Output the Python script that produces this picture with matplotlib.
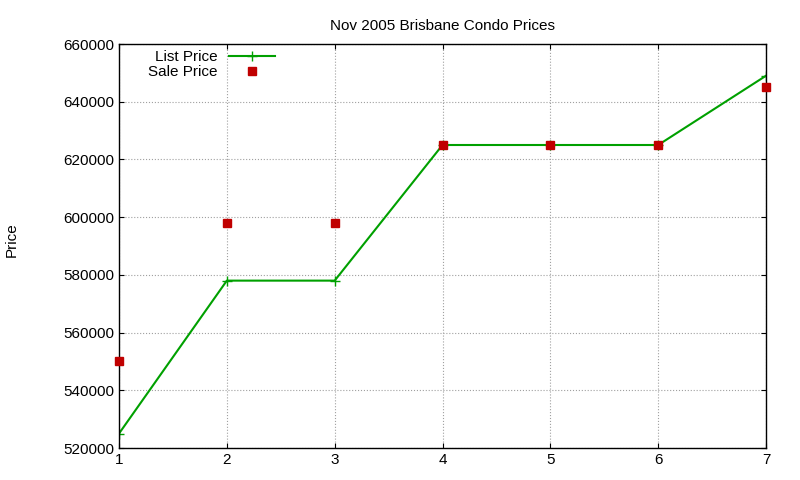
import matplotlib
matplotlib.use("Agg")
import matplotlib.pyplot as plt

x = [1, 2, 3, 4, 5, 6, 7]
list_price = [525000, 578000, 578000, 625000, 625000, 625000, 649000]
sale_price = [550000, 598000, 598000, 625000, 625000, 625000, 645000]

plt.rcParams['font.family'] = ['Liberation Sans', 'DejaVu Sans']
fig = plt.figure(figsize=(8, 4.8), dpi=100)
ax = fig.add_axes([119/800, 1-448/480, (766-119)/800, (448-44)/480])
ax.plot(x, list_price, color='#00a000', marker='+', markersize=7, lw=1.5, label='List Price')
ax.plot(x, sale_price, color='#c00000', marker='s', markersize=6, ls='none', label='Sale Price', clip_on=False, zorder=5)
ax.set_xlim(1, 7)
ax.set_ylim(520000, 660000)
ax.set_yticks(range(520000, 660001, 20000))
ax.grid(True, color='#a0a0a0', ls=':', lw=0.8)
ax.tick_params(direction='in', labelsize=11, top=True, right=True)
ax.set_title('Nov 2005 Brisbane Condo Prices', fontsize=11, pad=10)
fig.text(12/800, 0.5, 'Price', rotation=90, fontsize=11, ha='center', va='center')
for s in ax.spines.values():
    s.set_linewidth(1)
ax.legend(loc='upper left', bbox_to_anchor=(0.035, 1.0), markerfirst=False, frameon=False,
          fontsize=11, handlelength=3.0, borderpad=0.2, labelspacing=0.05, handletextpad=0.8,
          borderaxespad=0.2)
fig.savefig('out.png')
